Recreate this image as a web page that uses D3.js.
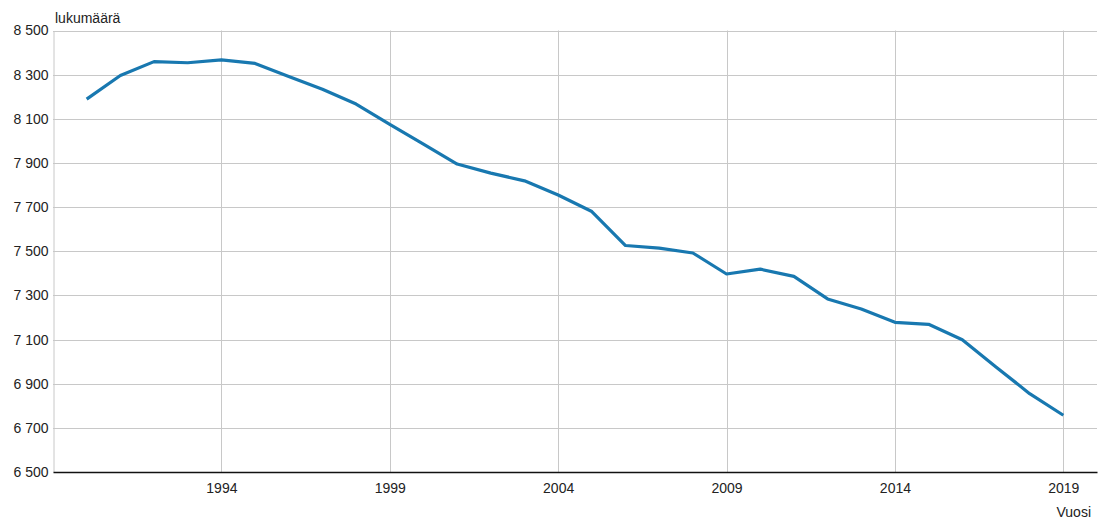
<!DOCTYPE html>
<html>
<head>
<meta charset="utf-8">
<script src="https://cdn.jsdelivr.net/npm/d3@7"></script>
<style>
  body { margin: 0; background: #fff; }
  text { font-family: "Liberation Sans", Arial, sans-serif; }
</style>
</head>
<body>
<svg></svg>
<script>
const w = 1099;
const h = 520;

// data
const years = [1990, 1991, 1992, 1993, 1994, 1995, 1996, 1997, 1998, 1999,
    2000, 2001, 2002, 2003, 2004, 2005, 2006, 2007, 2008, 2009,
    2010, 2011, 2012, 2013, 2014, 2015, 2016, 2017, 2018, 2019];
const counts = [8189, 8296, 8359, 8354, 8367, 8351, 8292, 8234, 8167, 8075,
    7985, 7895, 7854, 7819, 7755, 7680, 7526, 7514, 7492, 7397,
    7419, 7386, 7284, 7238, 7178, 7169, 7099, 6976, 6855, 6757];
const xTicks = [1994, 1999, 2004, 2009, 2014, 2019];
const yTicks = [6500, 6700, 6900, 7100, 7300, 7500, 7700, 7900, 8100, 8300, 8500];

const pLeft = 53, pRight = 1097, pTop = 30.5, pBottom = 472;

const svg = d3.select('svg').attr('width', w).attr('height', h);

const xScale = d3.scaleLinear().domain([1989, 2020]).range([pLeft, pRight]);
const yScale = d3.scaleLinear().domain([6500, 8500]).range([pBottom, pTop]);

const fi = d3.formatLocale({ decimal: ',', thousands: ' ', grouping: [3], currency: ['', ' €'] });
const fmt = fi.format(',d');

// horizontal grid
svg.append('g')
    .selectAll('line')
    .data(yTicks.slice(1))
    .enter()
    .append('line')
    .attr('x1', pLeft)
    .attr('x2', pRight)
    .attr('y1', (d) => Math.round(yScale(d)) + 0.5)
    .attr('y2', (d) => Math.round(yScale(d)) + 0.5)
    .attr('stroke', '#c8c8c8');

// vertical grid
svg.append('g')
    .selectAll('line')
    .data(xTicks)
    .enter()
    .append('line')
    .attr('x1', (d) => Math.round(xScale(d)) + 0.5)
    .attr('x2', (d) => Math.round(xScale(d)) + 0.5)
    .attr('y1', pTop)
    .attr('y2', pBottom)
    .attr('stroke', '#c8c8c8');

// y axis
const yAxis = d3.axisLeft(yScale).tickValues(yTicks).tickFormat(fmt).tickSize(0).tickPadding(5);
const gy = svg.append('g')
    .attr('id', 'y-axis')
    .attr('transform', 'translate(' + (pLeft + 0.5) + ',0)')
    .call(yAxis);
gy.select('.domain').attr('stroke', '#c8c8c8');
gy.selectAll('text').attr('font-size', 14).attr('fill', '#222');

// x axis
const xAxis = d3.axisBottom(xScale).tickValues(xTicks).tickFormat(d3.format('d')).tickSize(0).tickPadding(11);
const gx = svg.append('g')
    .attr('id', 'x-axis')
    .attr('transform', 'translate(0,' + pBottom + ')')
    .call(xAxis);
gx.select('.domain').attr('stroke', '#111').attr('stroke-width', 1.5);
gx.selectAll('text').attr('font-size', 14).attr('fill', '#222');

// line
const line = d3.line()
    .x((d, i) => xScale(years[i]))
    .y((d) => yScale(d));

svg.append('path')
    .datum(counts)
    .attr('d', line)
    .attr('fill', 'none')
    .attr('stroke', '#1878b0')
    .attr('stroke-width', 3.2)
    .attr('stroke-linejoin', 'round');

// axis titles
svg.append('text')
    .attr('x', 55)
    .attr('y', 23)
    .attr('font-size', 14)
    .attr('fill', '#222')
    .text('lukumäärä');

svg.append('text')
    .attr('x', 1091)
    .attr('y', 517)
    .attr('text-anchor', 'end')
    .attr('font-size', 14)
    .attr('fill', '#222')
    .text('Vuosi');
</script>
</body>
</html>
